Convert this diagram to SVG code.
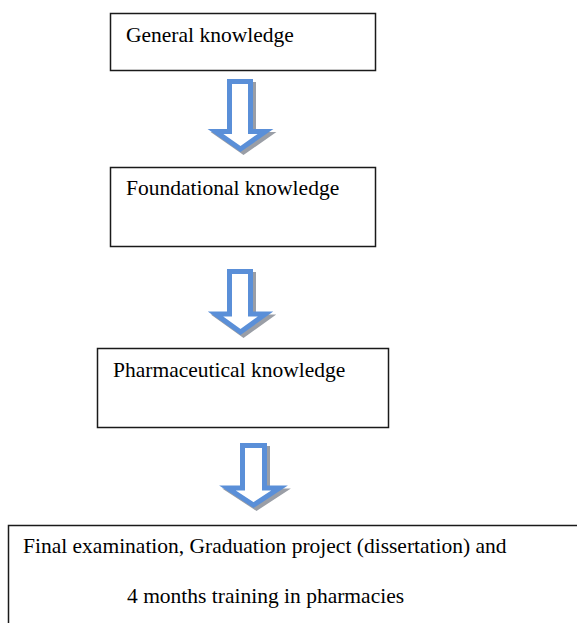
<svg xmlns="http://www.w3.org/2000/svg" width="577" height="623" viewBox="0 0 577 623">
  <style>
    .box { fill: #ffffff; stroke: #1a1a1a; stroke-width: 1.5; }
    .label { font-size: 21.5px; fill: #000000; }
    .arrow { fill: #ffffff; stroke: #5a8fd8; stroke-width: 5; stroke-linejoin: miter; }
    .shadow { fill: none; stroke: #9a9ea6; stroke-width: 5; stroke-linejoin: miter; }
  </style>
  <rect width="577" height="623" fill="#ffffff"/>

  <!-- down arrows between stages (shadow first, then outline) -->
  <g id="connectors">
    <path class="shadow" transform="translate(3,3)" d="M229.5 81.5 H250.5 V131.5 H265.5 L240.5 149 L215.5 131.5 H229.5 Z"/>
    <path class="arrow" d="M229.5 81.5 H250.5 V131.5 H265.5 L240.5 149 L215.5 131.5 H229.5 Z"/>

    <path class="shadow" transform="translate(3,3)" d="M229.5 271.5 H250.5 V314 H265.5 L240.5 332 L215.5 314 H229.5 Z"/>
    <path class="arrow" d="M229.5 271.5 H250.5 V314 H265.5 L240.5 332 L215.5 314 H229.5 Z"/>

    <path class="shadow" transform="translate(3,3)" d="M242.5 445.5 H264.5 V488 H279.5 L253.5 505 L227.5 488 H242.5 Z"/>
    <path class="arrow" d="M242.5 445.5 H264.5 V488 H279.5 L253.5 505 L227.5 488 H242.5 Z"/>
  </g>

  <g font-family="Liberation Serif, Times New Roman, DejaVu Serif, serif">
    <g id="general">
      <rect class="box" x="110.5" y="13.5" width="265" height="57"/>
      <text class="label" x="126" y="42">General knowledge</text>
    </g>

    <g id="foundational">
      <rect class="box" x="110.5" y="167.5" width="265" height="79"/>
      <text class="label" x="126" y="195">Foundational knowledge</text>
    </g>

    <g id="pharmaceutical">
      <rect class="box" x="97.5" y="348.5" width="291" height="79"/>
      <text class="label" x="113" y="377">Pharmaceutical knowledge</text>
    </g>

    <g id="final">
      <rect class="box" x="8.5" y="525.5" width="580" height="110"/>
      <text class="label" x="23" y="553">Final examination, Graduation project (dissertation) and</text>
      <text class="label" x="127" y="603">4 months training in pharmacies</text>
    </g>
  </g>
</svg>
